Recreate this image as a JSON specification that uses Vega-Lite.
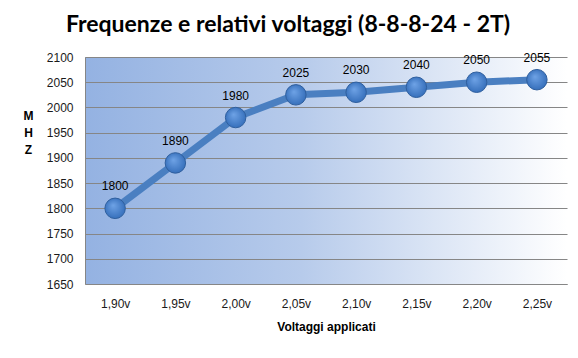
{
  "$schema": "https://vega.github.io/schema/vega-lite/v6.json",
  "width": 482,
  "height": 227,
  "autosize": {"type": "none"},
  "padding": {"left": 85, "top": 57, "right": 11, "bottom": 74},
  "background": "white",
  "title": {
    "text": "Frequenze e relativi voltaggi (8-8-8-24 - 2T)",
    "fontSize": 23,
    "font": "Lato",
    "fontWeight": "bold",
    "color": "#000000",
    "anchor": "middle",
    "dx": -38,
    "offset": 14
  },
  "config": {
    "view": {
      "stroke": null,
      "fill": {
        "gradient": "linear",
        "x1": 0, "y1": 0, "x2": 1, "y2": 0,
        "stops": [
          {"offset": 0, "color": "#94b2e2"},
          {"offset": 0.45, "color": "#b7cbeb"},
          {"offset": 1, "color": "#ffffff"}
        ]
      }
    },
    "axis": {
      "labelFont": "Liberation Sans",
      "labelFontSize": 12,
      "labelColor": "#1a1a1a",
      "titleFont": "Liberation Sans",
      "titleFontSize": 12,
      "titleFontWeight": "bold",
      "titleColor": "#000000",
      "domainColor": "#868686",
      "gridColor": "#868686",
      "ticks": false
    }
  },
  "data": {
    "values": [
      {"v": "1,90v", "mhz": 1800},
      {"v": "1,95v", "mhz": 1890},
      {"v": "2,00v", "mhz": 1980},
      {"v": "2,05v", "mhz": 2025},
      {"v": "2,10v", "mhz": 2030},
      {"v": "2,15v", "mhz": 2040},
      {"v": "2,20v", "mhz": 2050},
      {"v": "2,25v", "mhz": 2055}
    ]
  },
  "encoding": {
    "x": {
      "field": "v",
      "type": "ordinal",
      "sort": null,
      "scale": {"paddingInner": 0, "paddingOuter": 0},
      "axis": {"title": "Voltaggi applicati", "labelAngle": 0, "labelPadding": 14, "titlePadding": 12, "grid": false}
    },
    "y": {
      "field": "mhz",
      "type": "quantitative",
      "scale": {"domain": [1650, 2100], "nice": false, "zero": false},
      "axis": {
        "title": ["M", "H", "Z"],
        "titleAngle": 0,
        "titleX": -57,
        "titleY": 65,
        "titleLineHeight": 17,
        "titleAlign": "center",
        "format": "d",
        "values": [1650, 1700, 1750, 1800, 1850, 1900, 1950, 2000, 2050, 2100],
        "labelPadding": 12,
        "grid": true
      }
    }
  },
  "layer": [
    {
      "mark": {"type": "line", "color": "#4a7fc1", "strokeWidth": 7}
    },
    {
      "mark": {
        "type": "point",
        "filled": true,
        "size": 420,
        "opacity": 1,
        "stroke": "#2f5f9e",
        "strokeWidth": 1,
        "color": {
          "gradient": "radial",
          "x1": 0.4, "y1": 0.35, "r1": 0,
          "x2": 0.5, "y2": 0.5, "r2": 0.6,
          "stops": [
            {"offset": 0, "color": "#6fa3e6"},
            {"offset": 1, "color": "#2e68b5"}
          ]
        }
      }
    },
    {
      "mark": {"type": "text", "dy": -22, "font": "Liberation Sans", "fontSize": 12, "color": "#000000"},
      "encoding": {"text": {"field": "mhz", "type": "quantitative", "format": "d"}}
    }
  ]
}
